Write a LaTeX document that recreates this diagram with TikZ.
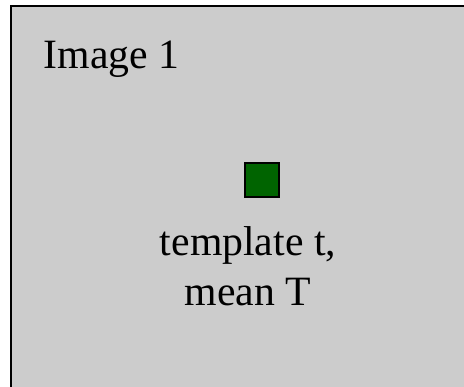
\documentclass[tikz,border=0pt]{standalone}
\usepackage{fontspec}
\setmainfont{Liberation Serif}
\definecolor{panelgray}{HTML}{CCCCCC}
\definecolor{tgreen}{HTML}{006400}
\begin{document}
\begin{tikzpicture}[x=0.75pt,y=-0.75pt,
  lbl/.style={inner sep=0pt,font=\fontsize{31.3pt}{37.5pt}\selectfont}]
\useasboundingbox (0,0) rectangle (464,386);
\begin{scope}
\clip (0,0) rectangle (464,386);
\draw[fill=panelgray,line width=1.6pt] (11,6) rectangle (480,400);
\end{scope}
\node[draw=black,fill=tgreen,line width=1.5pt,minimum size=25.5pt,inner sep=0pt] (sq) at (262,179.5) {};
\node[lbl,anchor=base west] (title) at (43.5,68) {Image 1};
\node[lbl,anchor=base] (l1) at (248,255) {template t,};
\node[lbl,anchor=base] (l2) at (248,305) {mean T};
\end{tikzpicture}
\end{document}
